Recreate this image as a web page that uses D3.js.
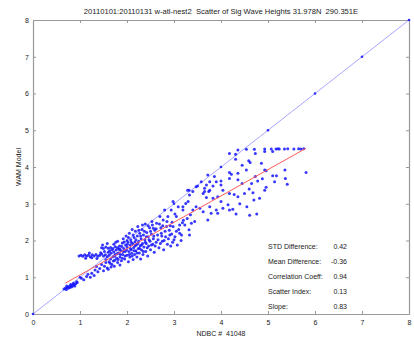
<!DOCTYPE html>
<html>
<head>
<meta charset="utf-8">
<script src="https://cdn.jsdelivr.net/npm/d3@7"></script>
<style>
  body { margin: 0; background: #fff; }
  svg text { font-family: "Liberation Sans", Arial, sans-serif; fill: #222; white-space: pre; }
</style>
</head>
<body>
<div id="chart"></div>
<script>
const titleText = "20110101:20110131 w-atl-nest2  Scatter of Sig Wave Heights 31.978N  290.351E";
const xLabel = "NDBC #  41048";
const yLabel = "WAM Model";
const axisTicks = [0, 1, 2, 3, 4, 5, 6, 7, 8];
const statLabels = ["STD Difference:", "Mean Difference:", "Correlation Coeff:", "Scatter Index:", "Slope:"];
const statValues = ["0.42", "-0.36", "0.94", "0.13", "0.83"];
// regression line end points [ndbc, wam]
const fitLine = [[0.69, 0.84], [5.81, 4.51]];

// scatter points [ndbc, wam]
const points = [
  // lower-left cluster
  [0.66,0.68],[0.69,0.71],[0.71,0.67],[0.73,0.73],[0.75,0.70],[0.77,0.75],[0.79,0.72],[0.81,0.77],
  [0.83,0.74],[0.85,0.78],[0.87,0.80],[0.89,0.76],[0.91,0.82],[0.72,0.76],[0.80,0.80],[0.86,0.84],[0.94,0.86],
  // rising tail
  [0.93,0.88],[1.03,0.97],[1.08,0.93],[1.14,1.02],[1.17,1.08],[1.22,1.00],[1.25,1.11],[1.30,1.05],
  [1.32,1.20],[1.35,1.29],[1.38,1.15],[1.42,1.24],[1.46,1.35],[1.50,1.18],[1.52,1.30],[1.55,1.40],[1.58,1.25],
  [1.60,1.22],[1.66,1.28],[1.73,1.30],[1.85,1.33],
  // streak near 1.6
  [0.98,1.58],[1.02,1.60],[1.06,1.57],[1.10,1.61],[1.14,1.58],[1.18,1.60],[1.22,1.56],[1.26,1.61],
  [1.30,1.58],[1.34,1.62],[1.38,1.57],[1.42,1.60],[1.46,1.63],[1.50,1.58],[1.54,1.61],[1.58,1.56],
  [1.62,1.60],[1.12,1.52],[1.25,1.53],[1.36,1.51],[1.20,1.66],[1.44,1.67],
  // streak near 1.8
  [1.46,1.80],[1.50,1.78],[1.55,1.82],[1.60,1.79],[1.65,1.81],[1.70,1.78],[1.75,1.83],[1.80,1.80],
  [1.85,1.77],[1.52,1.70],[1.63,1.72],[1.72,1.69],[1.48,1.88],[1.58,1.92],
  // dense cloud
  [1.62,1.42],[1.65,1.50],[1.66,1.65],[1.68,1.35],[1.70,1.56],[1.72,1.90],[1.74,1.46],[1.75,1.62],
  [1.77,1.74],[1.78,1.52],[1.80,1.98],[1.80,1.40],[1.82,1.66],[1.84,1.85],[1.85,1.55],[1.87,1.72],
  [1.88,1.45],[1.90,1.93],[1.91,1.62],[1.92,2.05],[1.93,1.78],[1.95,1.50],[1.96,1.70],[1.97,1.88],
  [1.98,2.12],[2.00,1.60],[2.00,1.82],[2.02,1.96],[2.03,1.42],[2.04,1.70],[2.05,2.20],[2.06,1.55],
  [2.07,1.88],[2.08,2.02],[2.09,1.75],[2.10,1.65],[2.11,2.30],[2.12,1.92],[2.13,1.48],
  [2.14,1.80],[2.15,2.08],[2.16,1.62],[2.17,1.96],[2.18,2.25],[2.19,1.72],[2.20,1.88],[2.21,1.55],
  [2.22,2.12],[2.23,2.38],[2.24,1.78],[2.25,1.98],[2.26,1.66],[2.27,2.20],[2.28,1.86],[2.29,1.50],
  [2.30,2.05],[2.31,1.74],[2.32,2.30],[2.33,1.92],[2.34,1.62],[2.35,2.15],
  [2.36,1.82],[2.38,2.02],[2.39,2.45],[2.40,1.70],[2.41,1.92],[2.42,2.22],[2.44,1.58],[2.45,2.10],
  [2.46,1.85],[2.48,2.35],[2.49,1.98],[2.50,1.75],[2.52,2.18],[2.53,2.52],[2.55,1.90],[2.56,2.05],
  [2.58,1.68],[2.59,2.28],
  [1.55,1.48],[1.60,1.68],[1.64,1.38],[1.68,1.75],[1.71,1.44],[1.74,1.58],[1.76,1.95],[1.79,1.64],
  [1.81,1.48],[1.83,1.76],[1.86,1.62],[1.89,1.84],[1.90,1.52],[1.92,1.70],[1.94,1.96],[1.96,1.58],
  [1.99,1.74],[2.01,1.90],[2.03,2.08],[2.05,1.62],[2.07,1.78],[2.09,1.95],[2.11,1.58],[2.13,2.15],
  [2.15,1.72],[2.17,1.85],[2.19,2.02],[2.21,1.66],[2.23,1.92],[2.25,2.28],[2.27,1.78],[2.29,2.12],
  [2.31,1.88],[2.33,2.42],[2.35,1.70],[2.37,2.25],[2.39,1.95],[2.41,2.10],[2.43,1.80],[2.45,2.40],
  [2.47,2.02],[2.50,2.25],[2.52,1.88],[2.54,2.42],[2.57,2.12],[2.60,1.85],[2.62,2.32],[2.66,2.02],
  [2.69,2.45],[2.71,1.92],[2.74,2.12],[2.76,2.40],[2.79,2.00],[2.81,2.25],[2.85,2.52],[2.88,2.05],
  [2.92,2.40],[2.95,2.18],[2.97,1.95],[3.02,2.10],
  // 2.6 - 3.2
  [2.56,2.33],[2.63,2.47],[2.62,1.95],[2.65,2.15],[2.68,1.80],[2.70,2.65],[2.72,2.35],[2.73,2.20],
  [2.75,1.98],[2.77,2.56],[2.78,1.75],[2.80,2.83],[2.82,2.10],[2.84,2.38],[2.86,1.90],[2.87,2.65],
  [2.90,2.28],[2.91,2.15],[2.93,1.85],[2.94,2.83],[2.96,2.50],[2.98,2.38],[2.98,3.06],[3.00,2.02],
  [3.02,2.72],[3.05,2.65],[3.07,1.88],[3.09,2.92],[3.10,2.30],[3.12,2.42],[3.12,2.20],[3.15,2.00],
  [3.16,2.15],[3.19,2.83],[3.19,2.92],[3.20,2.55],[3.05,2.25],[3.18,2.48],
  // 3.2 - 4.2
  [3.23,2.42],[3.25,3.01],[3.28,2.60],[3.30,3.06],[3.32,2.29],[3.33,2.15],[3.33,3.24],[3.35,2.70],
  [3.37,2.47],[3.40,2.83],[3.40,3.33],[3.44,2.52],[3.47,2.92],[3.47,3.46],[3.32,3.37],[3.29,3.37],
  [3.50,3.48],[3.55,2.88],[3.58,3.60],[3.62,2.78],[3.62,3.28],[3.65,3.33],[3.65,3.42],[3.69,3.17],
  [3.69,3.51],[3.72,2.56],[3.72,3.78],[3.74,3.33],[3.76,2.92],[3.76,3.37],[3.76,3.60],[3.79,2.74],
  [3.83,3.15],[3.83,3.48],[3.86,3.74],[3.90,2.83],[3.90,3.60],[3.93,2.74],[3.93,3.19],[4.00,3.06],
  [4.00,3.51],[4.00,3.62],[4.04,2.88],[4.04,3.37],[4.15,2.97],[4.18,2.83],[4.18,3.28],
  // 4.2 - 5.0
  [4.18,4.37],[4.31,4.35],[4.36,4.46],[4.54,4.48],[4.71,4.48],[4.73,4.37],[4.93,4.42],[4.59,4.17],
  [4.31,4.21],[4.18,3.85],[4.36,3.83],[4.54,3.92],[4.86,4.10],[4.96,3.90],[4.18,3.69],[4.36,3.65],
  [4.73,3.74],[4.93,3.37],[4.82,3.15],[4.68,3.30],[4.50,3.28],[4.36,3.19],[4.25,2.85],[4.32,2.72],
  [4.61,2.69],[4.76,2.72],[4.55,2.92],[4.22,3.80],[4.45,4.05],[4.62,4.12],[4.78,3.62],[4.88,3.68],
  [4.60,3.40],[4.70,3.10],[4.40,3.00],[4.28,3.25],[4.45,3.55],[4.65,3.55],
  // top streak
  [4.93,4.49],[5.07,4.49],[5.10,4.42],[5.17,4.49],[5.21,4.50],[5.24,4.49],[5.35,4.49],[5.42,4.50],
  [5.55,4.49],[5.65,4.50],[5.70,4.49],[5.76,4.50],
  // right side
  [4.93,3.92],[5.10,3.76],[5.18,3.76],[5.14,3.60],[5.36,3.92],[5.37,3.69],[5.41,3.53],[5.81,3.85],[4.96,3.45]
];

const width = 414, height = 349;
const margin = { top: 20, right: 5, bottom: 35, left: 33 };

const svg = d3.select("#chart").append("svg")
  .attr("width", width)
  .attr("height", height);

const x = d3.scaleLinear().domain([0, 8]).range([margin.left, width - margin.right]);
const y = d3.scaleLinear().domain([0, 8]).range([height - margin.bottom, margin.top]);

// axes, with mirrored ticks on top and right
const tickLen = 3;
svg.append("g")
  .attr("transform", "translate(0," + y(0) + ")")
  .call(d3.axisBottom(x).tickValues(axisTicks).tickSizeInner(-tickLen).tickSizeOuter(0).tickPadding(6));
svg.append("g")
  .attr("transform", "translate(0," + y(8) + ")")
  .call(d3.axisTop(x).tickValues(axisTicks).tickSizeInner(-tickLen).tickSizeOuter(0).tickFormat(""));
svg.append("g")
  .attr("transform", "translate(" + x(0) + ",0)")
  .call(d3.axisLeft(y).tickValues(axisTicks).tickSizeInner(-tickLen).tickSizeOuter(0).tickPadding(4));
svg.append("g")
  .attr("transform", "translate(" + x(8) + ",0)")
  .call(d3.axisRight(y).tickValues(axisTicks).tickSizeInner(-tickLen).tickSizeOuter(0).tickFormat(""));

svg.selectAll(".domain").attr("stroke", "#999").attr("stroke-width", 1.2);
svg.selectAll(".tick line").attr("stroke", "#999");
svg.selectAll(".tick text").style("font-size", "7px").attr("fill", "#222");

// 1:1 line with markers at whole numbers
svg.append("line")
  .attr("x1", x(0)).attr("y1", y(0))
  .attr("x2", x(8)).attr("y2", y(8))
  .attr("stroke", "#9c9cff").attr("stroke-width", 0.9);
svg.selectAll(".diag")
  .data(axisTicks)
  .enter().append("circle")
  .attr("cx", d => x(d)).attr("cy", d => y(d))
  .attr("r", 1.3).attr("fill", "#2b2bff");

// scatter
svg.selectAll(".pt")
  .data(points)
  .enter().append("circle")
  .attr("cx", d => x(d[0]))
  .attr("cy", d => y(d[1]))
  .attr("r", 1.5)
  .attr("fill", "#1515ff")
  .attr("fill-opacity", 0.85);

// regression line
svg.append("line")
  .attr("x1", x(fitLine[0][0])).attr("y1", y(fitLine[0][1]))
  .attr("x2", x(fitLine[1][0])).attr("y2", y(fitLine[1][1]))
  .attr("stroke", "#ff5a5a").attr("stroke-width", 1);

// title and axis labels
svg.append("text")
  .attr("x", (x(0) + x(8)) / 2).attr("y", 14)
  .attr("text-anchor", "middle")
  .style("font-size", "7.6px")
  .text(titleText);
svg.append("text")
  .attr("x", (x(0) + x(8)) / 2).attr("y", 336)
  .attr("text-anchor", "middle")
  .style("font-size", "7px")
  .text(xLabel);
svg.append("text")
  .attr("transform", "translate(21," + ((y(0) + y(8)) / 2) + ") rotate(-90)")
  .attr("text-anchor", "middle")
  .style("font-size", "7px")
  .text(yLabel);

// stats block
const statsY = d3.scaleBand().domain(statLabels).range([239, 314]);
svg.selectAll(".statLabel")
  .data(statLabels)
  .enter().append("text")
  .attr("x", 268)
  .attr("y", d => statsY(d) + 10)
  .style("font-size", "7px")
  .text(d => d);
svg.selectAll(".statValue")
  .data(statValues)
  .enter().append("text")
  .attr("x", 347)
  .attr("y", (d, i) => statsY(statLabels[i]) + 10)
  .attr("text-anchor", "end")
  .style("font-size", "7px")
  .text(d => d);
</script>
</body>
</html>
